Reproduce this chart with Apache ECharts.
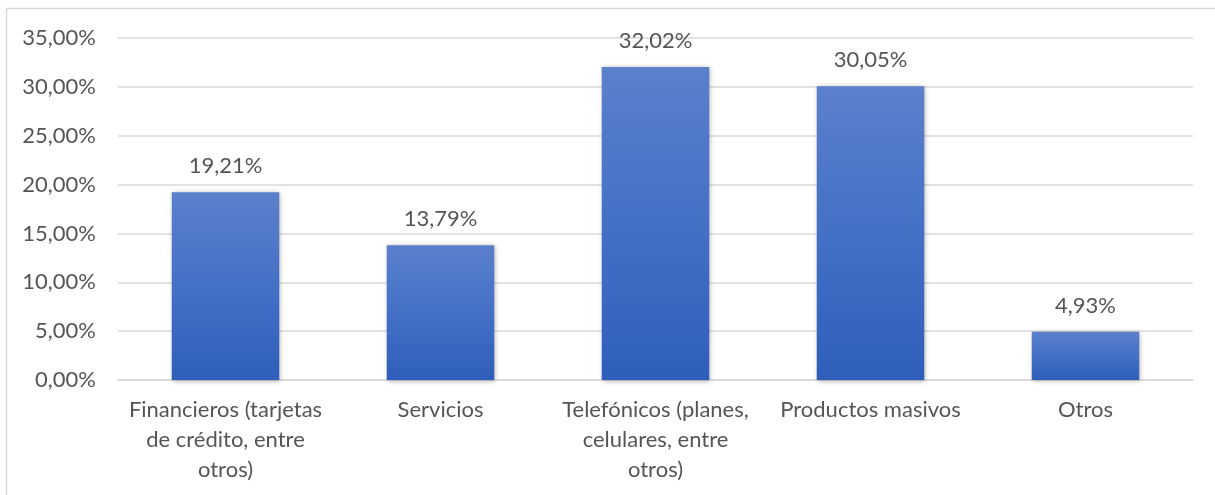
<!DOCTYPE html>
<html>
<head>
<meta charset="utf-8">
<script src="https://cdn.jsdelivr.net/npm/echarts@6/dist/echarts.min.js"></script>
<style>
  html, body { margin: 0; padding: 0; background: #fff; }
  #chart { width: 1215px; height: 495px; }
</style>
</head>
<body>
<div id="chart"></div>
<script>
// Categories and their shares (percent)
const categories = [
  'Financieros (tarjetas\nde crédito, entre\notros)',
  'Servicios',
  'Telefónicos (planes,\ncelulares, entre\notros)',
  'Productos masivos',
  'Otros'
];
const values = [19.21, 13.79, 32.02, 30.05, 4.93];

// Y axis range and step
const yMin = 0;
const yMax = 35;
const yStep = 5;

const fmt = (v, d) => v.toFixed(d).replace('.', ',') + '%';
const textColor = '#555555';
const fontFamily = 'Lato, "Noto Sans", sans-serif';

const chart = echarts.init(document.getElementById('chart'));
chart.setOption({
  animation: false,
  backgroundColor: '#fff',
  graphic: [{
    type: 'rect',
    shape: { x: 6.5, y: 8.5, width: 1215, height: 495 },
    style: { fill: 'none', stroke: '#d9d9d9', lineWidth: 1.5 },
    silent: true
  }],
  grid: { left: 118, right: 22, top: 38, bottom: 115 },
  xAxis: {
    type: 'category',
    data: categories,
    axisLine: { show: true, lineStyle: { color: '#d9d9d9', width: 1.5 } },
    axisTick: { show: false },
    axisLabel: {
      color: textColor,
      fontFamily: fontFamily,
      fontSize: 22,
      lineHeight: 30,
      margin: 15,
      interval: 0
    }
  },
  yAxis: {
    type: 'value',
    min: yMin,
    max: yMax,
    interval: yStep,
    axisLine: { show: false },
    axisTick: { show: false },
    splitLine: { lineStyle: { color: '#d9d9d9', width: 1.5 } },
    axisLabel: {
      color: textColor,
      fontFamily: fontFamily,
      fontSize: 22,
      margin: 22,
      formatter: v => fmt(v, 2)
    }
  },
  series: [{
    type: 'bar',
    data: values,
    barWidth: '50%',
    itemStyle: {
      color: new echarts.graphic.LinearGradient(0, 0, 0, 1, [
        { offset: 0, color: '#5b80cc' },
        { offset: 0.5, color: '#4470c6' },
        { offset: 1, color: '#2f5eba' }
      ]),
      shadowColor: 'rgba(0,0,0,0.35)',
      shadowBlur: 5,
      shadowOffsetX: 1,
      shadowOffsetY: 1
    },
    label: {
      show: true,
      position: 'top',
      distance: 15,
      color: textColor,
      fontFamily: fontFamily,
      fontSize: 22,
      formatter: p => fmt(p.value, 2)
    }
  }]
});
</script>
</body>
</html>
